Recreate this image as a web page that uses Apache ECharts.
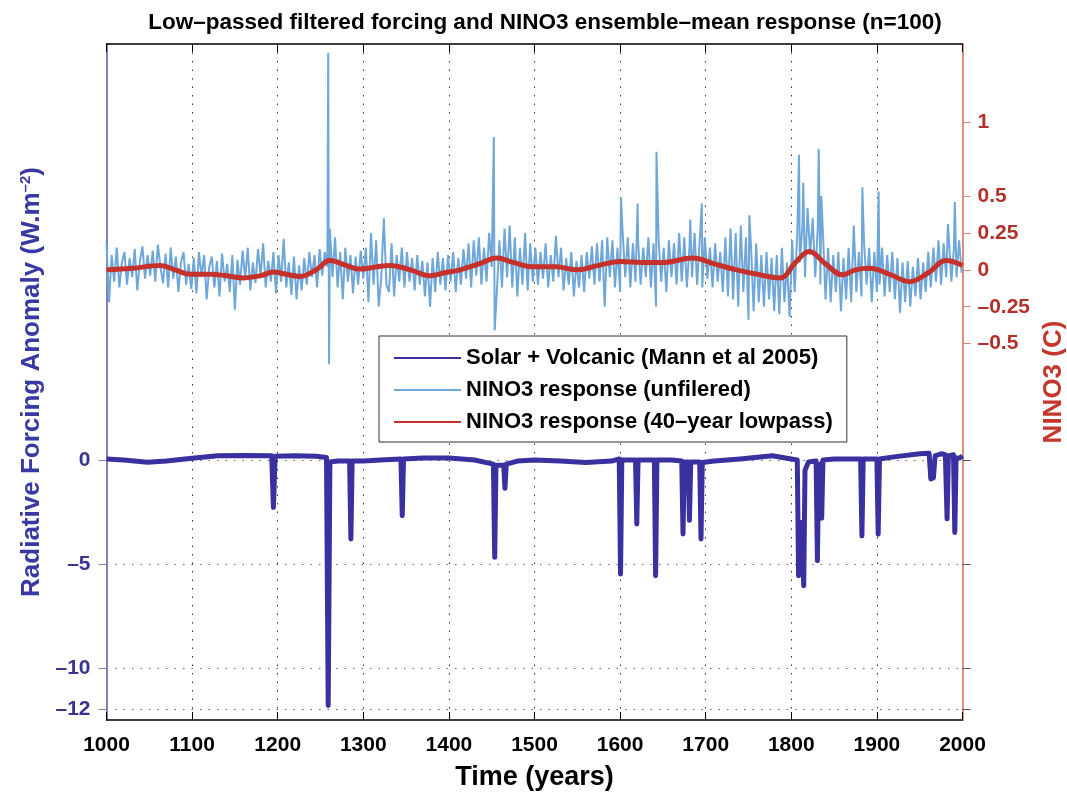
<!DOCTYPE html>
<html><head><meta charset="utf-8">
<script src="https://cdn.jsdelivr.net/npm/echarts@6/dist/echarts.min.js"></script>
<style>html,body{margin:0;padding:0;background:#fff}#c{width:1067px;height:792px}</style>
</head><body><div id="c"></div>
<script>
// ---------- data ----------
const titleText = 'Low–passed filtered forcing and NINO3 ensemble–mean response (n=100)';
const seriesNames = ['Solar + Volcanic (Mann et al 2005)', 'NINO3 response (unfilered)', 'NINO3 response (40–year lowpass)'];
const leftTickValues = [-12, -10, -5, 0];
const rightTickValues = [-0.5, -0.25, 0, 0.25, 0.5, 1];

// Solar + volcanic forcing (W m-2)
const forcingYears = [1000,1020,1048,1070,1100,1130,1160,1193,1195,1197,1220,1245,1257,1259,1261,1270,1284,1285.5,1287,1300,1320,1344,1345.5,1347,1370,1400,1430,1452,1453.5,1455,1464,1465.5,1467,1480,1500,1530,1560,1590,1599,1600.5,1602,1618,1619.5,1621,1640,1641.5,1643,1660,1672,1673.5,1675,1679.5,1681,1682.5,1693,1694.5,1696,1710,1740,1778,1800,1807,1808.5,1810,1812,1814.5,1816,1820,1829,1830.5,1832,1834,1835.5,1837,1850,1870,1881,1882.5,1884,1900,1901.5,1903,1920,1950,1961,1963,1966,1968,1975,1980,1982,1983.5,1989.5,1991,1992.5,1997,2000];
const forcingValues = [0.05,0.0,-0.11,-0.05,0.08,0.2,0.22,0.2,-2.28,0.18,0.2,0.18,0.12,-11.8,-0.1,-0.05,-0.05,-3.8,-0.05,-0.05,0.0,0.05,-2.68,0.05,0.1,0.1,0.0,-0.2,-4.68,-0.25,-0.25,-1.36,-0.2,-0.05,0.0,-0.05,-0.12,-0.05,0.05,-5.48,0.0,0.0,-3.08,0.0,0.0,-5.56,0.0,0.0,-0.05,-3.56,-0.1,-0.1,-2.9,-0.1,-0.1,-3.8,-0.12,-0.05,0.05,0.2,0.05,0.0,-5.56,-3.5,-3.0,-6.05,-0.5,-0.1,-0.05,-4.84,-0.3,-0.2,-2.8,0.0,0.05,0.05,0.05,-3.65,0.05,0.05,-3.57,0.05,0.15,0.3,0.32,-0.91,-0.85,0.2,0.3,0.25,-2.83,0.2,0.25,-3.48,0.1,0.1,0.2];

// NINO3 unfiltered response (C), one value every 3 years from 1000
const nino3StartYear = 1000;
const nino3Step = 3;
const nino3Values = [
 0.18,-0.22,0.10,-0.08,0.15,-0.12,0.05,0.12,-0.10,0.08,-0.05,0.14,-0.14,0.06,0.16,-0.06,0.10,-0.04,0.13,-0.08,0.17,0.02,-0.09,0.11,-0.12,0.15,-0.06,0.09,-0.15,0.05,0.12,-0.10,0.04,-0.13,
 0.08,-0.16,0.12,-0.05,0.10,-0.20,0.02,0.09,-0.12,0.06,-0.18,0.11,-0.08,0.04,-0.15,0.10,-0.27,0.07,-0.10,0.13,-0.06,0.15,-0.14,0.05,-0.09,0.14,-0.04,0.18,-0.12,0.06,-0.08,0.12,-0.16,
 0.10,-0.08,0.21,-0.12,0.05,-0.17,0.09,-0.20,0.03,-0.14,0.08,-0.10,0.12,-0.05,0.10,-0.12,0.14,-0.04,0.12,0.02,0.28,-0.05,0.22,-0.12,0.12,-0.20,0.15,-0.08,0.10,-0.16,0.09,-0.10,0.13,-0.06,
 0.15,-0.22,0.25,-0.10,0.20,-0.25,-0.05,0.35,-0.10,-0.15,0.18,-0.18,0.10,-0.08,0.15,-0.12,0.12,-0.08,0.08,-0.14,0.10,-0.10,0.06,-0.18,0.05,-0.25,0.08,-0.15,0.12,-0.10,0.08,-0.14,0.10,
 -0.08,0.12,-0.15,0.08,-0.10,0.14,-0.06,0.18,-0.12,0.20,-0.04,0.22,-0.10,0.15,-0.08,0.25,0.02,0.12,-0.15,0.20,-0.12,0.28,-0.05,0.30,-0.12,0.22,-0.18,0.15,-0.10,0.25,-0.14,0.18,-0.08,
 0.15,-0.10,0.12,-0.06,0.18,-0.12,0.10,-0.08,0.23,-0.05,0.15,-0.14,0.08,-0.10,0.12,-0.18,0.06,-0.12,0.10,-0.15,0.12,-0.06,0.16,-0.10,0.18,-0.08,0.20,-0.25,0.22,-0.05,0.20,-0.12,0.15,-0.15,
 0.25,-0.05,0.22,-0.12,0.18,-0.08,0.20,-0.10,0.15,-0.05,0.22,-0.12,0.18,-0.25,0.20,-0.08,0.15,-0.15,0.20,-0.05,0.18,-0.10,0.25,-0.08,0.22,-0.12,0.15,-0.05,0.25,-0.10,0.20,-0.12,0.22,
 -0.06,0.15,-0.12,0.18,-0.08,0.12,-0.15,0.22,-0.18,0.28,-0.20,0.25,-0.25,0.30,-0.15,0.22,-0.34,0.15,-0.28,0.18,-0.22,0.10,-0.25,0.12,-0.20,0.08,-0.28,0.10,-0.30,0.15,-0.22,0.05,-0.32,
 0.20,-0.15,0.25,0.05,0.30,-0.05,0.42,0.10,0.35,-0.05,0.30,-0.10,0.25,-0.20,0.15,-0.22,0.10,-0.15,0.12,-0.28,0.08,-0.20,0.15,-0.22,0.30,-0.15,0.12,-0.18,0.18,-0.10,0.15,-0.22,0.12,-0.15,
 -0.10,0.15,-0.18,0.10,-0.15,0.12,-0.20,0.08,-0.29,0.05,-0.22,0.06,-0.25,0.02,-0.18,0.08,-0.20,0.05,-0.15,0.12,-0.12,0.15,-0.08,0.20,-0.10,0.18,-0.05,0.22,-0.08,0.15,-0.05,0.20,-0.02
];
// isolated sharp peaks of the unfiltered response
const nino3PeakYears = [1259,1260,1452.5,1453.5,1601,1620.5,1642.5,1682,1695.5,1751,1809,1814,1832,1835,1883,1902,1983,1991];
const nino3PeakValues = [1.47,-0.64,0.90,-0.41,0.49,0.45,0.80,0.34,0.45,0.37,0.78,0.59,0.82,0.50,0.56,0.53,0.31,0.46];

// NINO3 40-year lowpass (C)
const lowpassYears = [1000,1030,1063,1080,1098,1121,1140,1160,1180,1195,1210,1226,1245,1261,1280,1296,1315,1331,1355,1378,1395,1413,1435,1456,1475,1498,1525,1550,1575,1600,1625,1650,1685,1710,1736,1760,1787,1805,1821,1840,1860,1875,1891,1915,1938,1960,1981,2000];
const lowpassValues = [0.0,0.01,0.03,0.0,-0.03,-0.03,-0.04,-0.055,-0.04,-0.015,-0.03,-0.045,0.0,0.063,0.03,0.005,0.02,0.03,0.0,-0.04,-0.02,0.0,0.04,0.08,0.05,0.02,0.02,0.0,0.03,0.056,0.05,0.05,0.08,0.04,0.0,-0.03,-0.055,0.05,0.124,0.04,-0.034,0.0,0.01,-0.03,-0.08,-0.02,0.063,0.03];

// ---------- build ----------
const forcingData = forcingYears.map((y, i) => [y, forcingValues[i]]);
const nino3Data = nino3Values.map((v, i) => [nino3StartYear + i * nino3Step, v])
  .concat(nino3PeakYears.map((y, i) => [y, nino3PeakValues[i]]))
  .sort((a, b) => a[0] - b[0]);
const lowpassData = lowpassYears.map((y, i) => [y, lowpassValues[i]]);

const fmt = v => (v < 0 ? '–' : '') + String(Math.abs(v));
const F = "'Liberation Sans', Arial, Helvetica, sans-serif";

const chart = echarts.init(document.getElementById('c'), null, {renderer: 'canvas'});
chart.setOption({
  animation: false,
  backgroundColor: '#fff',
  textStyle: {fontFamily: F},
  title: {
    text: titleText, left: 540, top: 6, textAlign: 'center',
    textStyle: {fontSize: 22.5, fontWeight: 'bold', color: '#000', fontFamily: F}
  },
  grid: {left: 106.5, right: 104.5, top: 44, bottom: 72, containLabel: false, outerBoundsMode: 'none'},
  legend: {
    orient: 'vertical', left: 379, top: 336, z: 10,
    itemWidth: 67, itemHeight: 14, itemGap: 10,
    padding: [11, 14, 9, 14],
    borderColor: '#333', borderWidth: 1, backgroundColor: '#fff',
    textStyle: {fontSize: 22, fontWeight: 'bold', color: '#000', fontFamily: F},
    itemStyle: {opacity: 0},
    data: seriesNames
  },
  xAxis: [{
    type: 'value', min: 1000, max: 2000, interval: 100, position: 'bottom',
    axisLine: {show: true, onZero: false, lineStyle: {color: '#000', width: 1.5}},
    axisTick: {show: true, inside: true, length: 8, lineStyle: {color: '#000', width: 1}},
    axisLabel: {margin: 15, color: '#000', fontSize: 21, fontWeight: 'bold', fontFamily: F, formatter: v => String(v)},
    splitLine: {show: true, showMinLine: false, showMaxLine: false, lineStyle: {color: '#333', type: [1.5, 7], width: 1}},
    name: 'Time (years)', nameLocation: 'middle', nameGap: 44,
    nameTextStyle: {fontSize: 27, fontWeight: 'bold', color: '#000', fontFamily: F}
  }, {
    type: 'value', min: 1000, max: 2000, interval: 100, position: 'top',
    axisLine: {show: true, onZero: false, lineStyle: {color: '#000', width: 1.5}},
    axisTick: {show: true, inside: true, length: 8, lineStyle: {color: '#000', width: 1}},
    axisLabel: {show: false}, splitLine: {show: false}
  }],
  yAxis: [{
    type: 'value', min: -12.5, max: 20, position: 'left',
    axisLine: {show: true, onZero: false, lineStyle: {color: '#8080b4', width: 2}},
    axisTick: {show: true, customValues: leftTickValues, length: 8, lineStyle: {color: '#8080b4', width: 1}},
    axisLabel: {customValues: leftTickValues, formatter: fmt, margin: 16, color: '#3a3592', fontSize: 21, fontWeight: 'bold', fontFamily: F},
    splitLine: {show: true, lineStyle: {color: '#666', type: [1.5, 7], width: 1}},
    name: 'Radiative Forcing Anomaly (W.m{sup|–2})', nameLocation: 'middle', nameGap: 61, nameRotate: 90,
    nameTextStyle: {fontSize: 26, fontWeight: 'bold', color: '#3a38a2', fontFamily: F,
      rich: {sup: {fontSize: 15, fontWeight: 'bold', color: '#3a38a2', verticalAlign: 'top', fontFamily: F}}}
  }, {
    type: 'value', min: -3.05, max: 1.53, position: 'right',
    axisLine: {show: true, onZero: false, lineStyle: {color: '#e08f7c', width: 2}},
    axisTick: {show: true, customValues: rightTickValues, length: 8, lineStyle: {color: '#d08878', width: 1}},
    axisLabel: {customValues: rightTickValues, formatter: fmt, margin: 15, color: '#b3312a', fontSize: 21, fontWeight: 'bold', fontFamily: F},
    splitLine: {show: false},
    name: 'NINO3 (C)', nameLocation: 'middle', nameGap: 73, nameRotate: 90,
    nameTextStyle: {fontSize: 26, fontWeight: 'bold', color: '#c4372c', fontFamily: F}
  }, {
    type: 'value', min: -12.5, max: 20, position: 'right',
    axisLine: {show: false},
    axisTick: {show: true, customValues: leftTickValues, length: 8, lineStyle: {color: '#555', width: 1}},
    axisLabel: {show: false}, splitLine: {show: false}
  }],
  series: [{
    name: seriesNames[0], type: 'line', xAxisIndex: 0, yAxisIndex: 0, data: forcingData,
    symbol: 'none', z: 3,
    lineStyle: {color: '#3a30a0', width: 5, join: 'round'}, itemStyle: {color: '#3a30a0'}
  }, {
    name: seriesNames[1], type: 'line', xAxisIndex: 0, yAxisIndex: 1, data: nino3Data,
    symbol: 'none', z: 2,
    lineStyle: {color: '#70a7d9', width: 2}, itemStyle: {color: '#70a7d9'}
  }, {
    name: seriesNames[2], type: 'line', xAxisIndex: 0, yAxisIndex: 1, data: lowpassData,
    symbol: 'none', smooth: 0.4, z: 4,
    lineStyle: {color: '#c6322b', width: 5}, itemStyle: {color: '#c6322b'}
  }]
});
</script></body></html>
